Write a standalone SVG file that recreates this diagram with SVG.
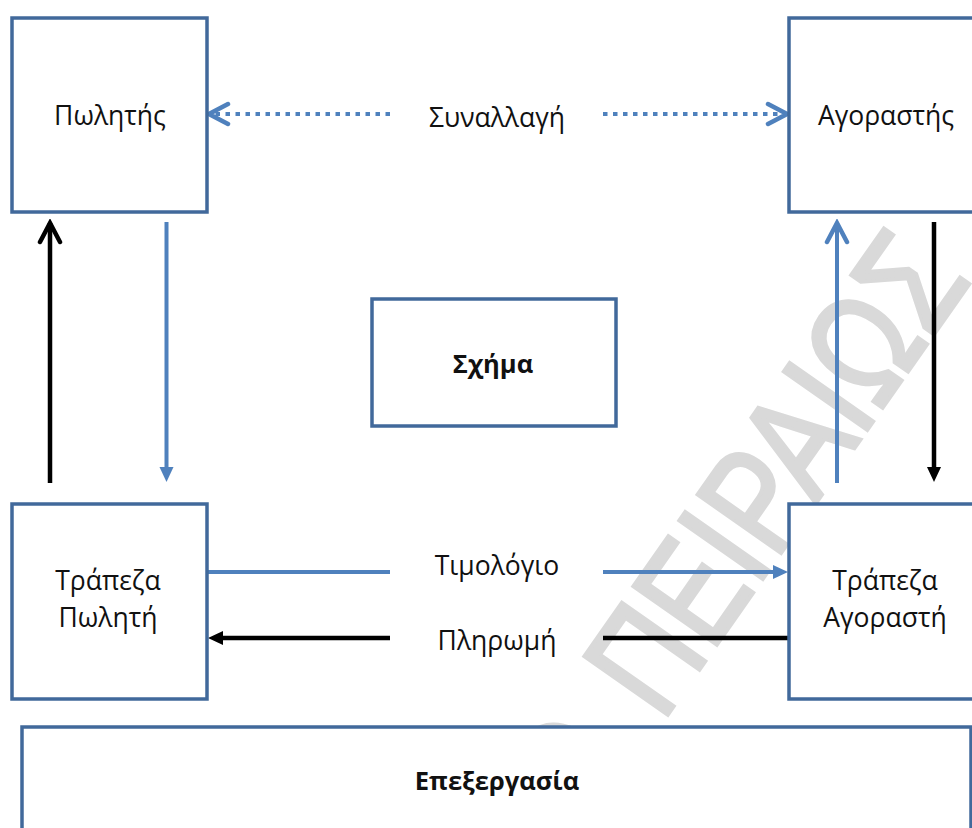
<svg xmlns="http://www.w3.org/2000/svg" width="972" height="828" viewBox="0 0 972 828">
  <style>
    .box { fill: #ffffff; stroke: #41699b; stroke-width: 3.5; }
    .lbl { font-family: "Open Sans", "Noto Sans", "DejaVu Sans", sans-serif; font-size: 26.5px; fill: #111111; text-anchor: middle; }
    .bold { font-weight: bold; font-size: 25.5px; }
    .blue { stroke: #4f81bd; fill: none; }
    .black { stroke: #000000; fill: none; }
    .wm { font-family: "Liberation Sans", "DejaVu Sans", sans-serif; font-size: 148px; fill: #d9d9d9; stroke: #d9d9d9; stroke-width: 4; stroke-linejoin: miter; }
  </style>
  <defs>
    <marker id="chevBlue" markerUnits="userSpaceOnUse" viewBox="-24 -14 28 28" markerWidth="28" markerHeight="28" refX="0" refY="0" orient="auto">
      <path d="M -19 -10 L 0 0 L -19 10" fill="none" stroke="#4f81bd" stroke-width="4.5" stroke-linecap="round"/>
    </marker>
    <marker id="chevBlack" markerUnits="userSpaceOnUse" viewBox="-24 -14 28 28" markerWidth="28" markerHeight="28" refX="0" refY="0" orient="auto">
      <path d="M -19 -10 L 0 0 L -19 10" fill="none" stroke="#000000" stroke-width="4.5" stroke-linecap="round"/>
    </marker>
    <marker id="triBlue" markerUnits="userSpaceOnUse" viewBox="-10 -10 20 20" markerWidth="20" markerHeight="20" refX="0" refY="0" orient="auto">
      <path d="M -7 -7 L 8 0 L -7 7 z" fill="#4f81bd"/>
    </marker>
    <marker id="triBlack" markerUnits="userSpaceOnUse" viewBox="-10 -10 20 20" markerWidth="20" markerHeight="20" refX="0" refY="0" orient="auto">
      <path d="M -7 -7 L 8 0 L -7 7 z" fill="#000000"/>
    </marker>
  </defs>

  <rect width="972" height="828" fill="#ffffff"/>

  <!-- background watermark, drawn under the boxes -->
  <g transform="translate(662 723) rotate(-55) scale(0.8 1)">
    <text class="wm" text-anchor="start">ΠΕΙΡΑΙΩΣ</text>
    <text class="wm" x="-60" text-anchor="end">ΠΑΝΕΠΙΣΤΗΜΙΟ</text>
  </g>

  <g id="connectors">
    <!-- Συναλλαγή (dotted, both sides) -->
    <path class="blue" d="M 390 114 L 209 114" stroke-width="4" stroke-dasharray="4.5 5.5" marker-end="url(#chevBlue)"/>
    <path class="blue" d="M 603 114 L 787 114" stroke-width="4" stroke-dasharray="4.5 5.5" marker-end="url(#chevBlue)"/>
    <!-- left verticals -->
    <path class="black" d="M 50 483 L 50 223" stroke-width="4.5" marker-end="url(#chevBlack)"/>
    <path class="blue" d="M 166.5 222 L 166.5 474" stroke-width="4" marker-end="url(#triBlue)"/>
    <!-- right verticals -->
    <path class="blue" d="M 837 483 L 837 223" stroke-width="4" marker-end="url(#chevBlue)"/>
    <path class="black" d="M 934 222 L 934 474" stroke-width="4.5" marker-end="url(#triBlack)"/>
    <!-- Τιμολόγιο -->
    <path class="blue" d="M 207 572 L 390 572" stroke-width="4"/>
    <path class="blue" d="M 603 572 L 780 572" stroke-width="4" marker-end="url(#triBlue)"/>
    <!-- Πληρωμή -->
    <path class="black" d="M 789 638 L 603 638" stroke-width="4.5"/>
    <path class="black" d="M 390 638 L 216 638" stroke-width="4.5" marker-end="url(#triBlack)"/>
  </g>

  <g id="seller">
    <rect class="box" x="12" y="18" width="195" height="194"/>
    <text class="lbl" x="110" y="125">Πωλητής</text>
  </g>

  <g id="buyer">
    <rect class="box" x="789" y="18" width="195" height="194"/>
    <text class="lbl" x="886" y="125">Αγοραστής</text>
  </g>

  <g id="transaction-label">
    <text class="lbl" x="497" y="127">Συναλλαγή</text>
  </g>

  <g id="schema">
    <rect class="box" x="372" y="299" width="244" height="127"/>
    <text class="lbl bold" x="493" y="373">Σχήμα</text>
  </g>

  <g id="seller-bank">
    <rect class="box" x="12" y="504" width="195" height="195"/>
    <text class="lbl" x="108" y="590">Τράπεζα</text>
    <text class="lbl" x="108" y="627">Πωλητή</text>
  </g>

  <g id="buyer-bank">
    <rect class="box" x="789" y="504" width="195" height="195"/>
    <text class="lbl" x="885" y="590">Τράπεζα</text>
    <text class="lbl" x="885" y="627">Αγοραστή</text>
  </g>

  <g id="invoice-label">
    <text class="lbl" x="497" y="575">Τιμολόγιο</text>
  </g>

  <g id="payment-label">
    <text class="lbl" x="497" y="650">Πληρωμή</text>
  </g>

  <g id="processing">
    <rect class="box" x="22" y="727" width="949" height="130"/>
    <text class="lbl bold" x="497" y="790">Επεξεργασία</text>
  </g>
</svg>
